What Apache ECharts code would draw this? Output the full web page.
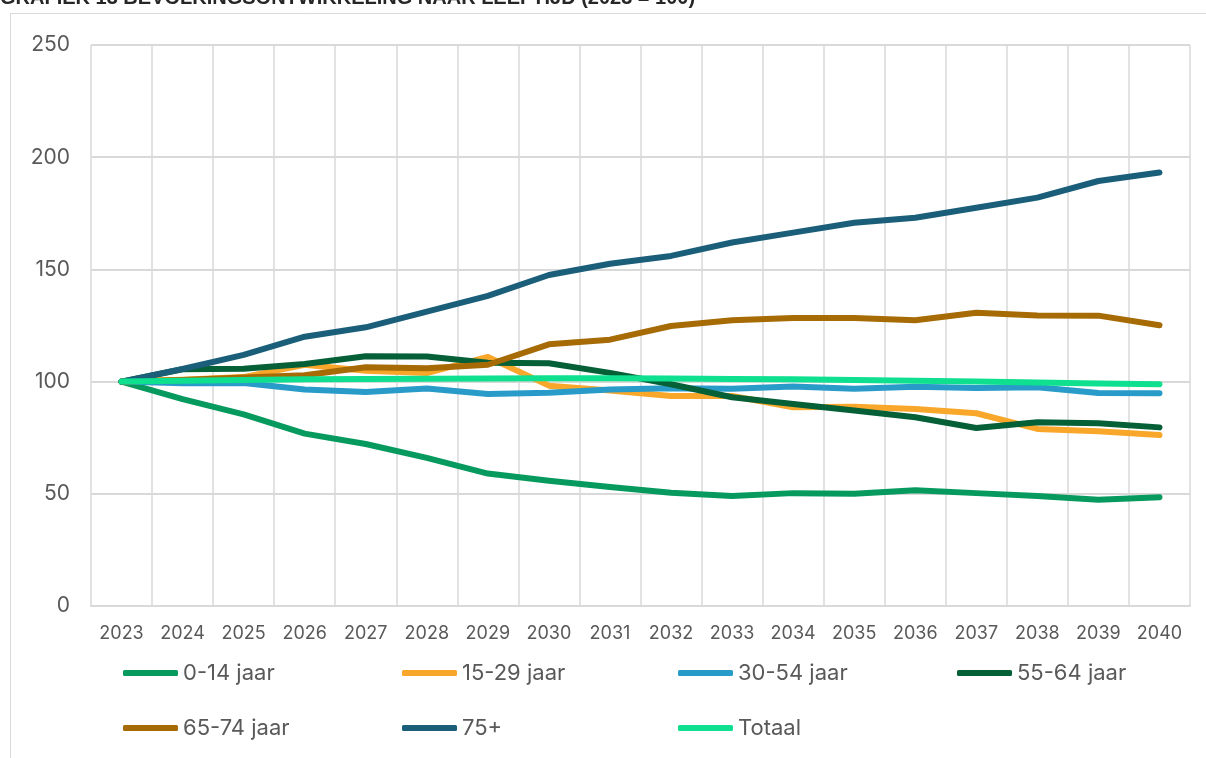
<!DOCTYPE html>
<html>
<head>
<meta charset="utf-8">
<script src="https://cdn.jsdelivr.net/npm/echarts@6/dist/echarts.min.js"></script>
<style>
  html, body { margin: 0; padding: 0; background: #fff; }
  #chart { width: 1206px; height: 758px; }
</style>
</head>
<body>
<div id="chart"></div>
<script>
// categorieen (jaren)
var years = ['2023', '2024', '2025', '2026', '2027', '2028', '2029', '2030', '2031',
  '2032', '2033', '2034', '2035', '2036', '2037', '2038', '2039', '2040'];

// index 2023 = 100
var jaar0_14 = [100, 92.2, 85.4, 76.8, 72.2, 66.0, 59.0, 55.8, 53.0, 50.5, 49.0, 50.3, 50.0, 51.6, 50.3, 49.0, 47.3, 48.5];
var jaar15_29 = [100, 100.8, 102.0, 107.5, 104.8, 103.8, 111.0, 98.2, 96.0, 93.6, 93.6, 88.6, 88.8, 87.8, 85.9, 78.9, 77.9, 76.2];
var jaar30_54 = [100, 99.3, 99.4, 96.5, 95.4, 96.9, 94.5, 95.0, 96.5, 97.0, 96.8, 97.8, 96.8, 97.7, 97.2, 97.5, 94.9, 94.8];
var jaar55_64 = [100, 105.5, 105.7, 107.8, 111.3, 111.2, 108.4, 108.2, 103.9, 98.8, 93.0, 90.0, 87.1, 84.1, 79.3, 81.9, 81.4, 79.6];
var jaar65_74 = [100, 100.7, 101.8, 102.8, 106.4, 106.0, 107.5, 116.6, 118.7, 124.8, 127.3, 128.3, 128.3, 127.3, 130.7, 129.5, 129.4, 125.1];
var jaar75plus = [100, 105.6, 111.9, 120.0, 124.2, 131.2, 138.2, 147.5, 152.5, 156.0, 162.0, 166.4, 170.8, 173.0, 177.5, 182.0, 189.4, 193.2];
var totaal = [100, 100.4, 100.7, 101.0, 101.2, 101.3, 101.4, 101.5, 101.5, 101.4, 101.2, 101.0, 100.7, 100.4, 100.0, 99.6, 99.2, 98.8];

var yTicks = [0, 50, 100, 150, 200, 250];

var names = ['0-14 jaar', '15-29 jaar', '30-54 jaar', '55-64 jaar', '65-74 jaar', '75+', 'Totaal'];
var values = [jaar0_14, jaar15_29, jaar30_54, jaar55_64, jaar65_74, jaar75plus, totaal];
var colors = ['#079a5f', '#f9a72a', '#299bc9', '#055f37', '#a66b05', '#1a5e7a', '#0ee08f'];

var fontFam = 'Inter, "Noto Sans", sans-serif';
var labelColor = '#595959';
var gridColor = '#d9d9d9';

// legenda: 4 kolommen, 2 rijen
var legendLeft = [123, 402, 678, 957];
var legendTop = [662, 717];

var myChart = echarts.init(document.getElementById('chart'));

var legends = names.map(function (n, i) {
  return {
    data: [n],
    left: legendLeft[i % 4],
    top: legendTop[Math.floor(i / 4)],
    icon: 'roundRect',
    itemWidth: 55,
    itemHeight: 6,
    itemGap: 0,
    padding: 0,
    textStyle: { color: labelColor, fontSize: 22, fontFamily: fontFam }
  };
});

var option = {
  backgroundColor: '#fff',
  animation: false,
  title: {
    text: 'GRAFIEK 13 BEVOLKINGSONTWIKKELING NAAR LEEFTIJD (2023 = 100)',
    left: 0,
    top: -12,
    padding: 0,
    textStyle: { color: '#262626', fontSize: 20, fontWeight: 'bold', fontFamily: '"Liberation Sans", Arial, sans-serif' }
  },
  graphic: [{
    type: 'rect',
    shape: { x: 10.5, y: 13.5, width: 1210, height: 760 },
    style: { fill: 'none', stroke: gridColor, lineWidth: 1 },
    silent: true
  }],
  legend: legends,
  grid: { left: 91, right: 16, top: 45, bottom: 152, containLabel: false },
  xAxis: {
    type: 'category',
    data: years,
    boundaryGap: true,
    axisLine: { lineStyle: { color: gridColor, width: 2 } },
    axisTick: { show: false },
    axisLabel: { color: labelColor, fontSize: 18, fontFamily: fontFam, margin: 19, interval: 0 },
    splitLine: { show: true, interval: 0, lineStyle: { color: gridColor, width: 1.5 } }
  },
  yAxis: {
    type: 'value',
    min: yTicks[0],
    max: yTicks[yTicks.length - 1],
    interval: 50,
    axisLine: { show: false },
    axisTick: { show: false },
    axisLabel: { color: labelColor, fontSize: 21, fontFamily: fontFam, margin: 21 },
    splitLine: { lineStyle: { color: gridColor, width: 2 } }
  },
  series: names.map(function (n, i) {
    return {
      name: n,
      type: 'line',
      data: values[i],
      symbol: 'none',
      color: colors[i],
      lineStyle: { width: 6, color: colors[i], cap: 'round', join: 'round' }
    };
  })
};

myChart.setOption(option);
window.addEventListener('resize', function () {
  myChart.resize();
});
</script>
</body>
</html>
